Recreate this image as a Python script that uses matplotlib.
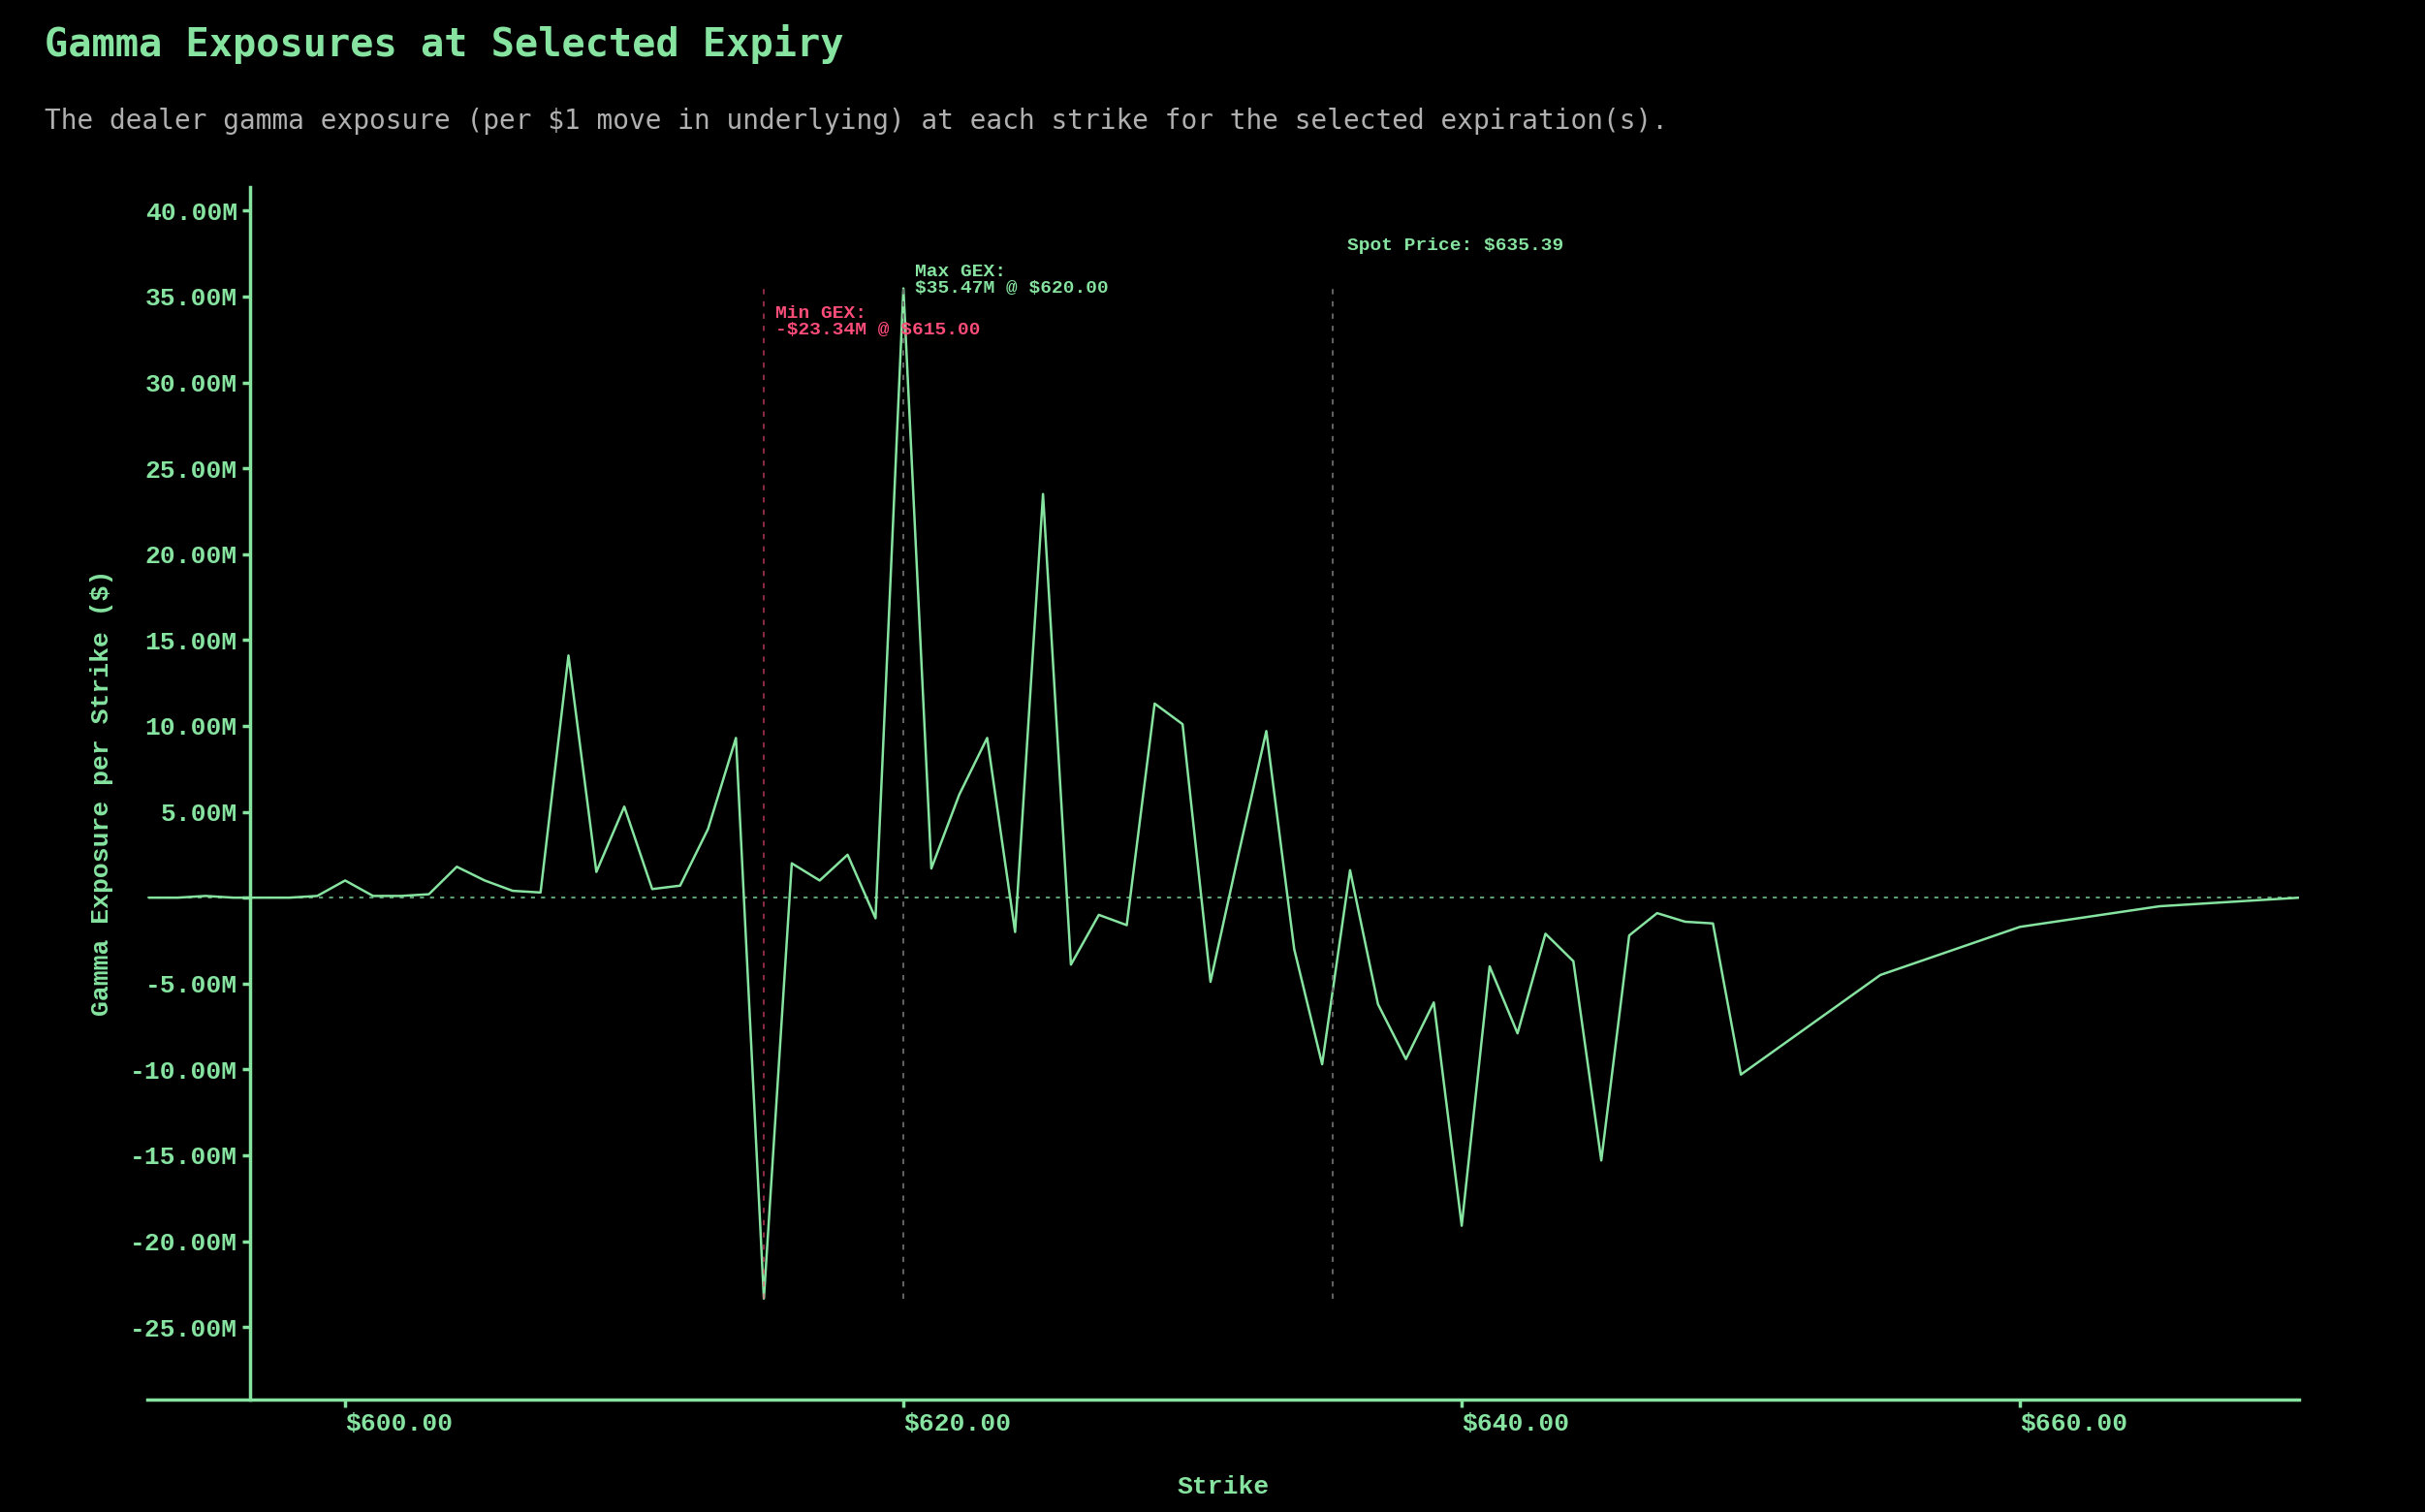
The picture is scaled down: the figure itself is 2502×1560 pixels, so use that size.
import numpy as np
import matplotlib.pyplot as plt
from matplotlib.ticker import FuncFormatter

# strikes and dealer gamma exposure (millions $)
strikes = [593, 594, 595, 596, 597, 598, 599, 600, 601, 602, 603, 604, 605, 606, 607,
           608, 609, 610, 611, 612, 613, 614, 615, 616, 617, 618, 619, 620, 621, 622,
           623, 624, 625, 626, 627, 628, 629, 630, 631, 632, 633, 634, 635, 636, 637,
           638, 639, 640, 641, 642, 643, 644, 645, 646, 647, 648, 649, 650, 655, 660,
           665, 670]
gex = [0.0, 0.0, 0.1, 0.0, 0.0, 0.0, 0.1, 1.0, 0.1, 0.1, 0.2, 1.8, 1.0, 0.4, 0.3,
       14.1, 1.5, 5.3, 0.5, 0.7, 4.0, 9.3, -23.34, 2.0, 1.0, 2.5, -1.2, 35.47, 1.7, 6.0,
       9.3, -2.0, 23.5, -3.9, -1.0, -1.6, 11.3, 10.1, -4.9, 2.5, 9.7, -3.0, -9.7, 1.6, -6.2,
       -9.4, -6.1, -19.1, -4.0, -7.9, -2.1, -3.7, -15.3, -2.2, -0.9, -1.4, -1.5, -10.3, -4.5, -1.7,
       -0.5, 0.0]
spot = 635.39

green = '#86e3a0'
red = '#ff4d7a'
grey = '#6b6b6b'
mono = 'Liberation Mono'
plt.rcParams['text.usetex'] = False

strikes = np.array(strikes)
gex = np.array(gex) * 1e6
imax = np.argmax(gex)
imin = np.argmin(gex)

fig = plt.figure(figsize=(25.02, 15.6), dpi=100, facecolor='black')
ax = fig.add_axes([0.0606, 0.0746, 0.8875, 0.802])
ax.set_facecolor('black')

ax.plot(strikes, gex, color=green, lw=1.8)
ax.axhline(0, color=green, lw=1.5, ls=(0, (2, 3)), alpha=0.7)

ylo, yhi = gex.min(), gex.max()
ax.vlines(strikes[imin], ylo, yhi, color=red, lw=1.3, ls=(0, (3, 4)), alpha=0.6)
ax.vlines(strikes[imax], ylo, yhi, color=grey, lw=1.3, ls=(0, (3, 4)))
ax.vlines(spot, ylo, yhi, color=grey, lw=1.3, ls=(0, (3, 4)))

ax.text(strikes[imax] + 0.4, 35.2e6, 'Max GEX:\n\\$%.2fM @ \\$%.2f' % (gex[imax] / 1e6, strikes[imax]),
        color=green, fontsize=14, family=mono, fontweight='bold', linespacing=1.0)
ax.text(strikes[imin] + 0.4, 32.8e6, 'Min GEX:\n-\\$%.2fM @ \\$%.2f' % (-gex[imin] / 1e6, strikes[imin]),
        color=red, fontsize=14, family=mono, fontweight='bold', linespacing=1.0)
ax.text(spot + 0.5, 37.7e6, 'Spot Price: \\$%.2f' % spot,
        color=green, fontsize=14, family=mono, fontweight='bold')

ax.set_xlim(592.9, 670)
ax.set_ylim(-29.2e6, 41.4e6)
ax.set_xticks([600, 620, 640, 660])
ax.set_yticks(np.arange(-25e6, 41e6, 5e6))
ax.xaxis.set_major_formatter(FuncFormatter(lambda v, p: '\\$%.2f' % v))
ax.yaxis.set_major_formatter(FuncFormatter(lambda v, p: '' if abs(v) < 1 else '%.2fM' % (v / 1e6)))

for s in ['top', 'right']:
    ax.spines[s].set_visible(False)
ax.spines['left'].set_position(('data', 596.6))
for s in ['left', 'bottom']:
    ax.spines[s].set_color(green)
    ax.spines[s].set_linewidth(2.5)
ax.tick_params(colors=green, width=2.5, length=6, labelsize=19)
for lab in ax.get_xticklabels() + ax.get_yticklabels():
    lab.set_family(mono)
    lab.set_fontweight('bold')
for lab in ax.get_xticklabels():
    lab.set_horizontalalignment('left')

ax.set_xlabel('Strike', color=green, fontsize=19, family=mono, fontweight='bold', labelpad=30)
ax.set_ylabel('Gamma Exposure per Strike (\\$)', color=green, fontsize=19, family=mono,
              fontweight='bold', labelpad=12)

fig.text(0.0185, 0.971, 'Gamma Exposures at Selected Expiry', color=green, fontsize=29,
         family='DejaVu Sans Mono', fontweight='bold', va='center')
fig.text(0.0185, 0.92, 'The dealer gamma exposure (per \\$1 move in underlying) at each strike '
         'for the selected expiration(s).', color='#b0b0b0', fontsize=20,
         family='DejaVu Sans Mono', va='center')

fig.savefig('out.png', dpi=100, facecolor='black')
